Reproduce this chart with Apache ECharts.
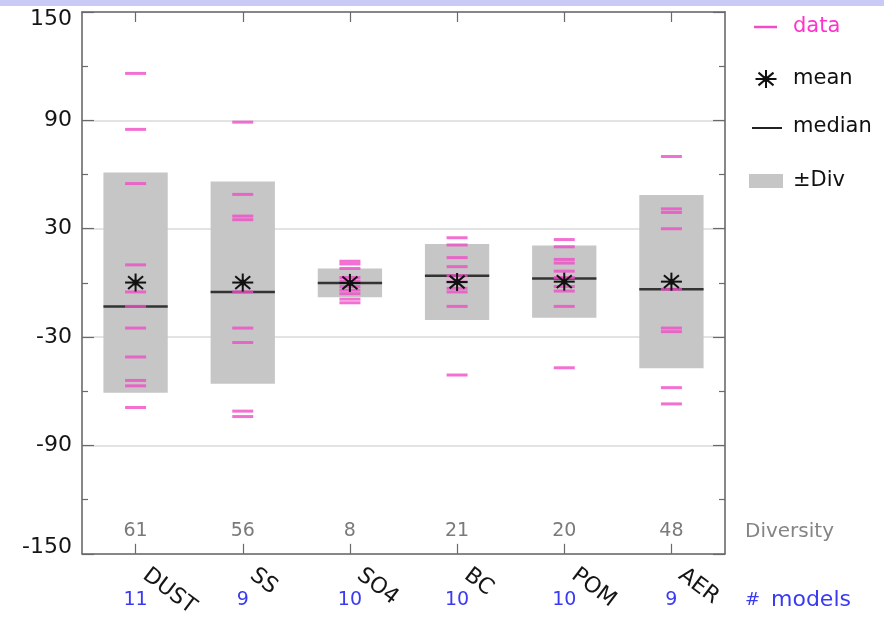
<!DOCTYPE html>
<html>
<head>
<meta charset="utf-8">
<script src="https://cdn.jsdelivr.net/npm/echarts@6/dist/echarts.min.js"></script>
<style>
  html, body { margin: 0; padding: 0; background: #ffffff; }
  #chart { width: 884px; height: 620px; }
</style>
</head>
<body>
<div id="chart"></div>
<script>
// Aerosol components and model spread (normalised, %)
const categories = ['DUST', 'SS', 'SO4', 'BC', 'POM', 'AER'];
const dustValues = [116, 85, 55, 10, -5, -13, -25, -41, -54, -57, -69];
const ssValues = [89, 49, 37, 35, -5, -25, -33, -71, -74];
const so4Values = [12, 10.5, 8, 3, 1, -2, -4, -6, -9, -11];
const bcValues = [25, 21, 14, 9, 4, 0.5, -3, -5, -13, -51];
const pomValues = [24, 20, 13, 11, 6.5, 3, -2, -4.5, -13, -47];
const aerValues = [70, 41, 39, 30, -3.5, -25, -27, -58, -67];
const meanValues = [0.2, 0.2, 0, 0.5, 0.7, 0.7];
const medianValues = [-13, -5, 0, 4, 2.5, -3.5];
const diversityValues = [61, 56, 8, 21, 20, 48];
const modelCounts = [11, 9, 10, 10, 10, 9];
const yLabelValues = [-150, -90, -30, 30, 90, 150];
const yMinorValues = [-120, -60, 0, 60, 120];

const PINK = '#f04cc8';
const GREY_BOX = '#c6c6c6';
const AXIS = '#6a6a6a';
const BLUE = '#3a3af2';
const FONT = 'DejaVu Sans';

const modelValues = [dustValues, ssValues, so4Values, bcValues, pomValues, aerValues];
const dashData = [];
modelValues.forEach((vals, i) => vals.forEach(v => dashData.push([i, v])));

// asterisk used for the mean
function asterisk(cx, cy) {
  const r = 10.5, ry = 9, d = 7.5;
  const seg = (x1, y1, x2, y2) => ({
    type: 'line',
    shape: { x1: cx + x1, y1: cy + y1, x2: cx + x2, y2: cy + y2 },
    style: { stroke: '#111', lineWidth: 2 }
  });
  return [
    seg(-r, 0, r, 0),
    seg(0, -ry, 0, ry),
    seg(-d, -d * 0.85, d, d * 0.85),
    seg(-d, d * 0.85, d, -d * 0.85),
    { type: 'circle', shape: { cx: cx, cy: cy, r: 3 }, style: { fill: '#111' } }
  ];
}

const baseY = { type: 'value', min: -150, max: 150 };
const baseX = { type: 'category', data: categories, boundaryGap: true };
const yLabelText = { fontFamily: FONT, fontSize: 22, color: '#151515' };

const option = {
  animation: false,
  backgroundColor: '#ffffff',
  grid: { left: 82, right: 159, top: 12, bottom: 66, containLabel: false },
  xAxis: [
    Object.assign({}, baseX, {
      position: 'bottom',
      axisLine: { show: true, onZero: false, lineStyle: { color: AXIS, width: 1.6 } },
      axisTick: { show: true, inside: true, alignWithLabel: true, length: 10, lineStyle: { color: AXIS, width: 1.2 } },
      axisLabel: {
        interval: 0, rotate: -37, margin: 12, padding: [0, 0, 0, 12],
        fontFamily: FONT, fontSize: 22, color: '#151515'
      },
      splitLine: { show: false }
    }),
    Object.assign({}, baseX, {
      position: 'top',
      axisLine: { show: true, onZero: false, lineStyle: { color: AXIS, width: 1.6 } },
      axisTick: { show: true, inside: true, alignWithLabel: true, length: 10, lineStyle: { color: AXIS, width: 1.2 } },
      axisLabel: { show: false },
      splitLine: { show: false }
    }),
    Object.assign({}, baseX, {
      position: 'bottom',
      axisLine: { show: false, onZero: false },
      axisTick: { show: false },
      axisLabel: {
        inside: true, interval: 0, margin: 13,
        fontFamily: FONT, fontSize: 19, color: '#7a7a7a',
        formatter: (v, i) => String(diversityValues[i])
      },
      splitLine: { show: false }
    }),
    Object.assign({}, baseX, {
      position: 'bottom',
      offset: 30,
      axisLine: { show: false, onZero: false },
      axisTick: { show: false },
      axisLabel: {
        interval: 0, margin: 7,
        fontFamily: FONT, fontSize: 19, color: BLUE,
        formatter: (v, i) => String(modelCounts[i])
      },
      splitLine: { show: false }
    })
  ],
  yAxis: [
    Object.assign({}, baseY, {
      position: 'left',
      axisLine: { show: true, onZero: false, lineStyle: { color: AXIS, width: 1.6 } },
      axisTick: { show: true, inside: true, length: 12, customValues: yLabelValues, lineStyle: { color: AXIS, width: 1.2 } },
      axisLabel: Object.assign({
        customValues: yLabelValues,
        margin: 10,
        // end labels sit a little inside the frame
        formatter: (v) => v === 150 ? '{hi|' + v + '}' : (v === -150 ? '{lo|' + v + '}' : String(v)),
        rich: {
          hi: Object.assign({ padding: [14, 0, 0, 0] }, yLabelText),
          lo: Object.assign({ padding: [0, 0, 14, 0] }, yLabelText)
        }
      }, yLabelText),
      splitLine: { show: true, lineStyle: { color: '#e3e3e3', width: 2 } }
    }),
    Object.assign({}, baseY, {
      position: 'left',
      axisLine: { show: false, onZero: false },
      axisTick: { show: true, inside: true, length: 6, customValues: yMinorValues, lineStyle: { color: AXIS, width: 1.2 } },
      axisLabel: { show: false },
      splitLine: { show: false }
    }),
    Object.assign({}, baseY, {
      position: 'right',
      axisLine: { show: true, onZero: false, lineStyle: { color: AXIS, width: 1.6 } },
      axisTick: { show: true, inside: true, length: 12, customValues: yLabelValues, lineStyle: { color: AXIS, width: 1.2 } },
      axisLabel: { show: false },
      splitLine: { show: false }
    }),
    Object.assign({}, baseY, {
      position: 'right',
      axisLine: { show: false, onZero: false },
      axisTick: { show: true, inside: true, length: 6, customValues: yMinorValues, lineStyle: { color: AXIS, width: 1.2 } },
      axisLabel: { show: false },
      splitLine: { show: false }
    })
  ],
  series: [
    {
      name: '±Div',
      type: 'custom',
      xAxisIndex: 0, yAxisIndex: 0, z: 2,
      data: categories.map((c, i) => [i, meanValues[i] - diversityValues[i], meanValues[i] + diversityValues[i]]),
      renderItem: (params, api) => {
        const i = api.value(0);
        const top = api.coord([i, api.value(2)]);
        const bot = api.coord([i, api.value(1)]);
        const w = api.size([1, 0])[0] * 0.6;
        return {
          type: 'rect',
          shape: { x: top[0] - w / 2, y: top[1], width: w, height: bot[1] - top[1] },
          style: { fill: GREY_BOX }
        };
      }
    },
    {
      name: 'median',
      type: 'custom',
      xAxisIndex: 0, yAxisIndex: 0, z: 3,
      data: medianValues.map((v, i) => [i, v]),
      renderItem: (params, api) => {
        const p = api.coord([api.value(0), api.value(1)]);
        const w = api.size([1, 0])[0] * 0.6;
        return {
          type: 'line',
          shape: { x1: p[0] - w / 2, y1: p[1], x2: p[0] + w / 2, y2: p[1] },
          style: { stroke: '#333333', lineWidth: 2.5 }
        };
      }
    },
    {
      name: 'data',
      type: 'scatter',
      xAxisIndex: 0, yAxisIndex: 0, z: 4,
      symbol: 'rect',
      symbolSize: [21, 3],
      itemStyle: { color: PINK },
      data: dashData
    },
    {
      name: 'mean',
      type: 'custom',
      xAxisIndex: 0, yAxisIndex: 0, z: 5,
      data: meanValues.map((v, i) => [i, v]),
      renderItem: (params, api) => {
        const p = api.coord([api.value(0), api.value(1)]);
        return { type: 'group', children: asterisk(p[0], p[1]) };
      }
    }
  ],
  graphic: [
    { type: 'rect', left: 0, top: 0, shape: { width: 884, height: 6 }, style: { fill: '#cacaf6' }, silent: true },
    // key
    { type: 'line', shape: { x1: 754, y1: 27, x2: 777, y2: 27 }, style: { stroke: PINK, lineWidth: 2.5 } },
    { type: 'text', x: 793, y: 27, style: { text: 'data', fill: '#ff33cc', font: '21px "DejaVu Sans"', verticalAlign: 'middle' } },
    { type: 'group', children: asterisk(766, 79) },
    { type: 'text', x: 793, y: 79, style: { text: 'mean', fill: '#111', font: '21px "DejaVu Sans"', verticalAlign: 'middle' } },
    { type: 'line', shape: { x1: 752, y1: 128, x2: 782, y2: 128 }, style: { stroke: '#222', lineWidth: 2 } },
    { type: 'text', x: 793, y: 127, style: { text: 'median', fill: '#111', font: '21px "DejaVu Sans"', verticalAlign: 'middle' } },
    { type: 'rect', shape: { x: 749, y: 174, width: 34, height: 14 }, style: { fill: GREY_BOX } },
    { type: 'text', x: 793, y: 181, style: { text: '±Div', fill: '#111', font: '21px "DejaVu Sans"', verticalAlign: 'middle' } },
    // row captions
    { type: 'text', x: 745, y: 532, style: { text: 'Diversity', fill: '#858585', font: '20px "DejaVu Sans"', verticalAlign: 'middle' } },
    { type: 'text', x: 745, y: 600, style: { text: '#', fill: BLUE, font: '18px "DejaVu Sans"', verticalAlign: 'middle' } },
    { type: 'text', x: 771, y: 600, style: { text: 'models', fill: BLUE, font: '22px "DejaVu Sans"', verticalAlign: 'middle' } }
  ]
};

const chart = echarts.init(document.getElementById('chart'), null, { renderer: 'canvas' });
chart.setOption(option);
</script>
</body>
</html>
